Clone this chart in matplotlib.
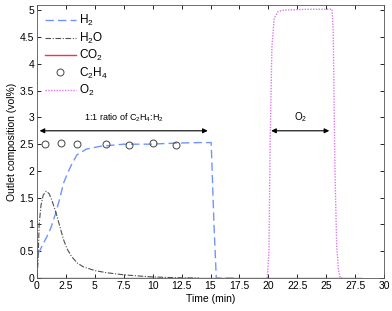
import matplotlib
matplotlib.use("Agg")
import matplotlib.pyplot as plt
import numpy as np

plt.rcParams['font.family'] = ['Liberation Sans', 'DejaVu Sans']
plt.rcParams['mathtext.fontset'] = 'custom'
plt.rcParams['mathtext.rm'] = 'Liberation Sans'
plt.rcParams['mathtext.it'] = 'Liberation Sans:italic'
plt.rcParams['mathtext.bf'] = 'Liberation Sans:bold'

# H2 trace
h2_t = [0.0, 0.05, 0.23, 0.5, 0.86, 1.2, 1.58, 2.0, 2.3, 2.7, 3.0, 3.46, 4.3, 5.47, 7.5, 9.7, 12.0, 14.1, 15.06, 15.3, 15.5, 17.0]
h2_v = [0.0, 0.45, 0.5, 0.62, 0.77, 0.93, 1.18, 1.5, 1.77, 1.98, 2.12, 2.3, 2.41, 2.46, 2.5, 2.5, 2.52, 2.53, 2.53, 1.0, 0.0, 0.0]

# H2O trace
h2o_t = [0.0, 0.1, 0.2, 0.35, 0.55, 0.8, 1.05, 1.3, 1.5, 1.75, 2.0, 2.3, 2.6, 3.0, 3.5, 4.0, 5.0, 6.0, 7.5, 9.0, 10.0, 11.5, 12.5, 14.0]
h2o_v = [0.0, 0.3, 1.0, 1.35, 1.55, 1.62, 1.58, 1.45, 1.32, 1.15, 0.95, 0.72, 0.55, 0.4, 0.28, 0.21, 0.14, 0.1, 0.06, 0.035, 0.02, 0.01, 0.005, 0.0]

# CO2 trace
co2_t = [0.0, 28.0]
co2_v = [0.0, 0.0]

# C2H4 points
c2h4_t = [0.7, 2.1, 3.5, 6.0, 8.0, 10.0, 12.0]
c2h4_v = [2.51, 2.53, 2.51, 2.51, 2.49, 2.52, 2.48]

# O2 trace
o2_t = [19.9, 20.05, 20.15, 20.3, 20.5, 20.8, 21.2, 22.0, 23.5, 25.0, 25.5, 25.6, 25.75, 25.9, 26.05, 26.2, 26.5]
o2_v = [0.0, 0.5, 2.5, 4.3, 4.85, 4.97, 5.0, 5.01, 5.02, 5.02, 5.02, 4.6, 2.0, 0.6, 0.15, 0.0, 0.0]

fig = plt.figure(figsize=(3.92, 3.11), dpi=100)
ax = fig.add_axes([0.094, 0.106, 0.886, 0.878])

ax.plot(h2_t, h2_v, color='#7094ff', lw=1.0, ls=(0, (6, 3)), label='H$_2$')
ax.plot(h2o_t, h2o_v, color='#505050', lw=0.8, ls=(0, (5, 1.5, 1, 1.5)), label='H$_2$O')
ax.plot(co2_t, co2_v, color='#ee3355', lw=1.0, label='CO$_2$', zorder=3)
ax.plot(c2h4_t, c2h4_v, ls='none', marker='o', ms=5, mfc='none', mec='#444444', mew=0.7, label='C$_2$H$_4$')
ax.plot(o2_t, o2_v, color='#dd77ee', lw=1.0, ls=(0, (1, 1)), label='O$_2$')

ax.annotate('', xy=(0, 2.75), xytext=(15, 2.75),
            arrowprops=dict(arrowstyle='<|-|>', color='black', lw=0.8, mutation_scale=7))
ax.text(7.5, 2.88, '1:1 ratio of C$_2$H$_4$:H$_2$', ha='center', va='bottom', fontsize=6.5)
ax.annotate('', xy=(20, 2.75), xytext=(25.5, 2.75),
            arrowprops=dict(arrowstyle='<|-|>', color='black', lw=0.8, mutation_scale=7))
ax.text(22.75, 2.88, 'O$_2$', ha='center', va='bottom', fontsize=7)

ax.set_xlim(0, 30)
ax.set_ylim(0, 5.1)
xt = np.arange(0, 30.01, 2.5)
ax.set_xticks(xt)
ax.set_xticklabels(['0', '2.5', '5', '7.5', '10', '12.5', '15', '17.5', '20', '22.5', '25', '27.5', '30'])
yt = np.arange(0, 5.01, 0.5)
ax.set_yticks(yt)
ax.set_yticklabels(['0', '0.5', '1', '1.5', '2', '2.5', '3', '3.5', '4', '4.5', '5'])
ax.tick_params(direction='in', top=True, right=True, labelsize=7.5, length=3, width=0.6, pad=2)
for s in ax.spines.values():
    s.set_linewidth(0.6)
    s.set_color('#555555')
ax.set_xlabel('Time (min)', fontsize=7.5, labelpad=2)
ax.set_ylabel('Outlet composition (vol%)', fontsize=7.5, labelpad=2)

leg = ax.legend(loc='upper left', frameon=False, fontsize=8.5, handlelength=2.6,
                labelspacing=0.2, borderaxespad=0.3, handletextpad=0.3)

fig.savefig('out.png', dpi=100)
